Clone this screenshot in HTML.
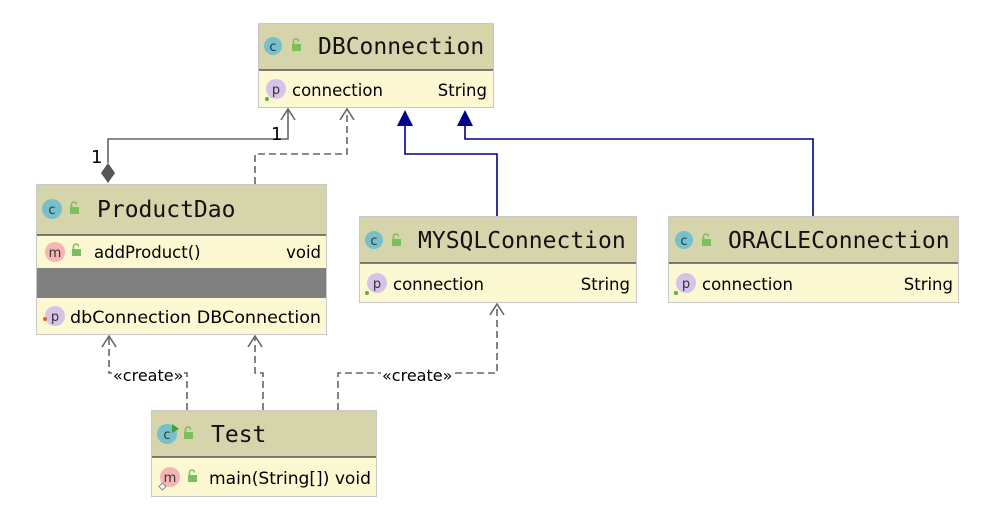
<!DOCTYPE html>
<html><head><meta charset="utf-8"><style>
body{margin:0;background:#fff;width:990px;height:516px;overflow:hidden}
svg text{font-family:"DejaVu Sans","Liberation Sans",sans-serif}
.h{font-family:"DejaVu Sans Mono","Liberation Mono",monospace;font-size:23px;fill:#111}
.b{font-size:16.5px;fill:#000;font-family:"DejaVu Sans",sans-serif}
.ic{font-size:13px;fill:#333;text-anchor:middle;font-family:"DejaVu Sans",sans-serif}
</style></head><body>
<svg width="990" height="516" viewBox="0 0 990 516">
<defs>
<g id="lock"><rect x="0" y="4" width="9" height="7" fill="#7cbf5a"/><path d="M1.5 4 V1.5 A2.5 2.5 0 0 1 6.5 1.5" fill="none" stroke="#7cbf5a" stroke-width="1.6"/></g>
</defs>
<g fill="none" stroke="#666" stroke-width="1.6">
<path d="M108 163 V139 H288 V109"/>
<path d="M281 120 L288 109 L295 120"/>
<path d="M255 184 V154 H347 V109" stroke-dasharray="7,4"/>
<path d="M340 120 L347 109 L354 120"/>
<path d="M187 410 V373 H109 V336" stroke-dasharray="7,4"/>
<path d="M102 347 L109 336 L116 347"/>
<path d="M263 410 V373 H255 V336" stroke-dasharray="7,4"/>
<path d="M248 347 L255 336 L262 347"/>
<path d="M338 410 V373 H497 V304" stroke-dasharray="7,4"/>
<path d="M490 315 L497 304 L504 315"/>
</g>
<path d="M108 163 L115 173 L108 183 L101 173Z" fill="#555"/>
<text x="91" y="163" font-size="18" font-family="Liberation Sans">1</text>
<text x="271" y="140" font-size="18" font-family="Liberation Sans">1</text>
<g fill="none" stroke="#00008b" stroke-width="1.6">
<path d="M497 216 V154 H405 V124"/>
<path d="M813 216 V139 H465 V124"/>
</g>
<path d="M405 110 L413 126 L397 126Z" fill="#00008b"/>
<path d="M465 110 L473 126 L457 126Z" fill="#00008b"/>
<rect x="112" y="366" width="70" height="16" fill="#fff"/>
<text x="113" y="381" font-size="16" font-family="Liberation Sans">«create»</text>
<rect x="381" y="366" width="70" height="16" fill="#fff"/>
<text x="382" y="381" font-size="16" font-family="Liberation Sans">«create»</text>

<rect x="258.5" y="23.5" width="235" height="84" fill="#fbf8d2" stroke="#c8c8c8"/>
<rect x="259" y="24" width="234" height="46" fill="#d6d4ab"/>
<line x1="259" y1="70" x2="493" y2="70" stroke="#555" stroke-width="1.5"/>
<circle cx="273" cy="46" r="9" fill="#76c0cc"/><text class="ic" x="273" y="51">c</text>
<use href="#lock" x="292" y="40"/>
<text class="h" x="318" y="54">DBConnection</text>
<circle cx="276" cy="89" r="10" fill="#d6c4e8"/><text class="ic" x="276" y="94">p</text>
<circle cx="267" cy="99" r="2" fill="#5ab040"/>
<text class="b" x="292" y="96">connection</text><text class="b" x="487" y="96" text-anchor="end">String</text>

<rect x="36.5" y="184.5" width="290" height="150" fill="#fbf8d2" stroke="#c8c8c8"/>
<rect x="37" y="185" width="289" height="50" fill="#d6d4ab"/>
<line x1="37" y1="235" x2="326" y2="235" stroke="#555" stroke-width="1.5"/>
<rect x="37" y="268" width="289" height="30" fill="#808080"/>
<circle cx="52" cy="209" r="10" fill="#76c0cc"/><text class="ic" x="52" y="214">c</text>
<use href="#lock" x="70" y="203"/>
<text class="h" x="97" y="217">ProductDao</text>
<circle cx="55" cy="252" r="10" fill="#f5b5b5"/><text class="ic" x="55" y="257">m</text>
<use href="#lock" x="72" y="245"/>
<text class="b" x="94" y="258">addProduct()</text><text class="b" x="321" y="258" text-anchor="end">void</text>
<circle cx="55" cy="316" r="10" fill="#d6c4e8"/><text class="ic" x="55" y="321">p</text>
<circle cx="45" cy="319" r="2" fill="#f06020"/>
<text class="b" x="70" y="323" textLength="251" lengthAdjust="spacingAndGlyphs">dbConnection DBConnection</text>

<rect x="359.5" y="216.5" width="277" height="86" fill="#fbf8d2" stroke="#c8c8c8"/>
<rect x="360" y="217" width="276" height="46" fill="#d6d4ab"/>
<line x1="360" y1="263" x2="636" y2="263" stroke="#555" stroke-width="1.5"/>
<circle cx="374" cy="240" r="9" fill="#76c0cc"/><text class="ic" x="374" y="245">c</text>
<use href="#lock" x="392" y="235"/>
<text class="h" x="418" y="248">MYSQLConnection</text>
<circle cx="377" cy="283" r="10" fill="#d6c4e8"/><text class="ic" x="377" y="288">p</text>
<circle cx="367" cy="293" r="2" fill="#5ab040"/>
<text class="b" x="393" y="290">connection</text><text class="b" x="630" y="290" text-anchor="end">String</text>

<rect x="668.5" y="216.5" width="290" height="86" fill="#fbf8d2" stroke="#c8c8c8"/>
<rect x="669" y="217" width="289" height="46" fill="#d6d4ab"/>
<line x1="669" y1="263" x2="958" y2="263" stroke="#555" stroke-width="1.5"/>
<circle cx="684" cy="240" r="9" fill="#76c0cc"/><text class="ic" x="684" y="245">c</text>
<use href="#lock" x="702" y="235"/>
<text class="h" x="728" y="248">ORACLEConnection</text>
<circle cx="686" cy="283" r="10" fill="#d6c4e8"/><text class="ic" x="686" y="288">p</text>
<circle cx="676" cy="293" r="2" fill="#5ab040"/>
<text class="b" x="702" y="290">connection</text><text class="b" x="953" y="290" text-anchor="end">String</text>

<rect x="151.5" y="410.5" width="225" height="86" fill="#fbf8d2" stroke="#c8c8c8"/>
<rect x="152" y="411" width="224" height="46" fill="#d6d4ab"/>
<line x1="152" y1="457" x2="376" y2="457" stroke="#555" stroke-width="1.5"/>
<circle cx="167" cy="434" r="10" fill="#76c0cc"/><text class="ic" x="167" y="439">c</text>
<path d="M172 424 L179 429 L172 433Z" fill="#3ea040"/>
<use href="#lock" x="184" y="428"/>
<text class="h" x="211" y="442">Test</text>
<circle cx="170" cy="477" r="10" fill="#f5b5b5"/><text class="ic" x="170" y="482">m</text>
<rect x="160" y="484" width="5" height="5" fill="none" stroke="#8888aa" transform="rotate(45 162.5 486.5)"/>
<use href="#lock" x="188" y="471"/>
<text class="b" x="209" y="484" textLength="162" lengthAdjust="spacingAndGlyphs">main(String[]) void</text>
</svg>
</body></html>
